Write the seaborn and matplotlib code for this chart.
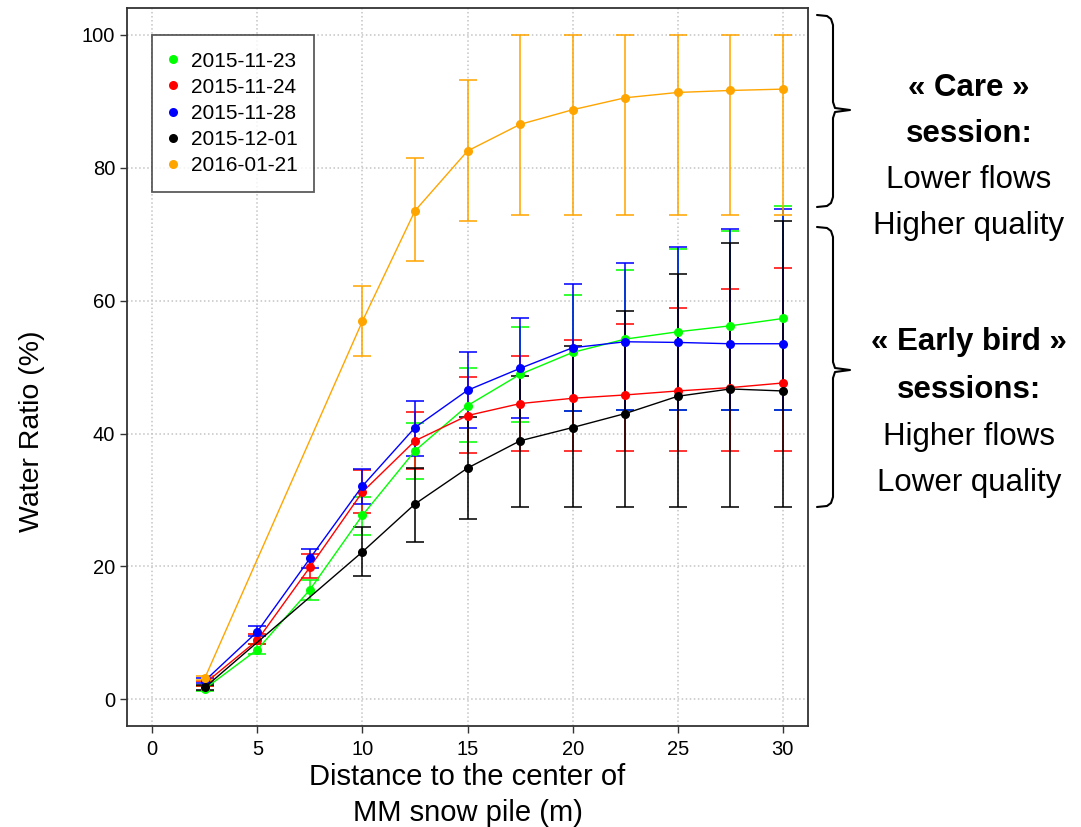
import numpy as np
import pandas as pd
import matplotlib
matplotlib.use("Agg")
import matplotlib.pyplot as plt
from matplotlib.lines import Line2D
import seaborn as sns

# data
distance = [2.5, 5, 7.5, 10, 12.5, 15, 17.5, 20, 22.5, 25, 27.5, 30]
sessions = ["2015-11-23", "2015-11-24", "2015-11-28", "2015-12-01", "2016-01-21"]
colors = ["#00FF00", "#FF0000", "#0000FF", "#000000", "#FFA500"]

ratio_1123 = [1.6, 7.5, 16.5, 27.7, 37.4, 44.2, 48.9, 52.2, 54.2, 55.3, 56.2, 57.3]
upper_1123 = [2.0, 8.3, 18.0, 30.5, 41.6, 49.8, 56.0, 60.9, 64.6, 67.7, 70.5, 74.2]
lower_1123 = [1.2, 6.8, 15.0, 24.8, 33.2, 38.7, 41.8, 43.4, 43.5, 43.5, 43.5, 43.5]

ratio_1124 = [2.4, 8.9, 19.9, 31.2, 38.9, 42.7, 44.5, 45.3, 45.8, 46.4, 46.9, 47.6]
upper_1124 = [2.8, 9.8, 21.9, 34.5, 43.2, 48.5, 51.7, 54.0, 56.4, 58.9, 61.8, 64.9]
lower_1124 = [2.0, 8.3, 18.2, 28.0, 34.6, 37.0, 37.4, 37.4, 37.4, 37.4, 37.4, 37.4]

ratio_1128 = [2.8, 10.2, 21.2, 32.1, 40.9, 46.5, 49.8, 52.9, 53.8, 53.7, 53.5, 53.5]
upper_1128 = [3.2, 11.0, 22.7, 34.7, 44.9, 52.2, 57.3, 62.5, 65.7, 68.1, 70.7, 73.8]
lower_1128 = [2.4, 9.6, 19.7, 29.4, 36.6, 40.9, 42.4, 43.4, 43.5, 43.5, 43.5, 43.5]

# no measurement at 5 and 7.5 m for these two
ratio_1201 = [1.8, None, None, 22.2, 29.4, 34.8, 38.9, 40.9, 43.0, 45.6, 46.7, 46.4]
upper_1201 = [2.2, None, None, 26.0, 34.8, 42.5, 48.6, 53.1, 58.4, 64.0, 68.6, 72.0]
lower_1201 = [1.4, None, None, 18.5, 23.7, 27.2, 29.0, 29.0, 29.0, 29.0, 29.0, 29.0]

ratio_0121 = [3.2, None, None, 56.9, 73.5, 82.5, 86.5, 88.7, 90.5, 91.3, 91.6, 91.8]
upper_0121 = [3.5, None, None, 62.2, 81.4, 93.1, 100, 100, 100, 100, 100, 100]
lower_0121 = [2.9, None, None, 51.6, 66.0, 72.0, 72.8, 72.8, 72.8, 72.8, 72.8, 72.8]

ratios = [ratio_1123, ratio_1124, ratio_1128, ratio_1201, ratio_0121]
uppers = [upper_1123, upper_1124, upper_1128, upper_1201, upper_0121]
lowers = [lower_1123, lower_1124, lower_1128, lower_1201, lower_0121]

frames = []
for s, r, u, l in zip(sessions, ratios, uppers, lowers):
    frames.append(pd.DataFrame({"distance": distance, "ratio": r, "upper": u,
                                "lower": l, "session": s}))
df = pd.concat(frames).dropna()

sns.set_theme(style="ticks")
plt.rcParams["font.family"] = ["Liberation Sans", "DejaVu Sans"]
plt.rcParams["text.color"] = "black"
plt.rcParams["axes.labelcolor"] = "black"
plt.rcParams["xtick.color"] = "black"
plt.rcParams["ytick.color"] = "black"

fig = plt.figure(figsize=(10.81, 8.27), dpi=100)
ax = fig.add_axes([0.1175, 0.1221, 0.630, 0.8682])

palette = dict(zip(sessions, colors))

# error bars first, then lines + dots
for s in sessions:
    d = df[df.session == s]
    ax.errorbar(d.distance, d.ratio, yerr=[d.ratio - d.lower, d.upper - d.ratio],
                fmt="none", ecolor=palette[s], elinewidth=1.4, capsize=6.5,
                capthick=1.4, alpha=0.8, zorder=3)

sns.lineplot(data=df, x="distance", y="ratio", hue="session", palette=palette,
             marker="o", markersize=6.5, markeredgewidth=0, linewidth=1,
             legend=False, ax=ax, zorder=4)

ax.set_xlim(-1.2, 31.2)
ax.set_ylim(-4, 104)
ax.set_xticks(range(0, 31, 5))
ax.set_yticks(range(0, 101, 20))
ax.grid(True, color="#C4C4C4", linestyle=":", linewidth=1.1)
ax.tick_params(labelsize=14.5, length=5, width=1, color="#333333", direction="out")
ax.tick_params(axis="x", pad=5)
for sp in ax.spines.values():
    sp.set_color("#333333")
    sp.set_linewidth(1.3)

ax.set_xlabel("Distance to the center of\nMM snow pile (m)", fontsize=21, labelpad=3,
              linespacing=1.36)
ax.set_ylabel("Water Ratio (%)", fontsize=20.5)
ax.yaxis.set_label_coords(-0.12, 0.41)

handles = [Line2D([], [], linestyle="none", marker="o", markersize=6.5,
                  markeredgewidth=0, color=c) for c in colors]
leg = ax.legend(handles, sessions, loc="upper left", bbox_to_anchor=(0.0367, 0.9624),
                borderaxespad=0, fontsize=15, frameon=True, fancybox=False,
                handlelength=0.4, handletextpad=0.65, borderpad=0.8, labelspacing=0.34)
leg.get_frame().set_edgecolor("#333333")
leg.get_frame().set_linewidth(1.3)


# braces on the right, in figure pixels
W, H = 1081, 827


def brace(top, mid, bot):
    xs = [817, 827, 831, 833, 833, 835, 850, 835, 833, 833, 831, 827, 817]
    ys = [top, top + 1, top + 4, top + 10, mid - 8, mid - 2, mid, mid + 2, mid + 8,
          bot - 10, bot - 4, bot - 1, bot]
    fig.add_artist(Line2D([x / W for x in xs], [1 - y / H for y in ys],
                          transform=fig.transFigure, color="black", linewidth=1.5))


brace(15, 110, 207)
brace(227, 370, 507)

notes = [("« Care »", 88, "bold"), ("session:", 134, "bold"),
         ("Lower flows", 180, "normal"), ("Higher quality", 226, "normal"),
         ("« Early bird »", 342, "bold"), ("sessions:", 390, "bold"),
         ("Higher flows", 437, "normal"), ("Lower quality", 483, "normal")]
for txt, y, w in notes:
    fig.text(969 / W, 1 - y / H, txt, ha="center", va="center", fontsize=22.5,
             fontweight=w, color="black")

plt.savefig("out.png", dpi=100)
